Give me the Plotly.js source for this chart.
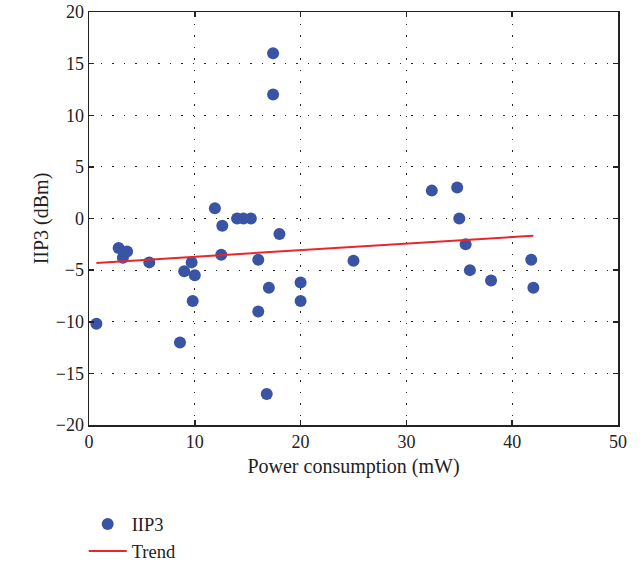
<!DOCTYPE html>
<html><head><meta charset="utf-8">
<script src="https://cdn.plot.ly/plotly-3.0.1.min.js"></script>
<style>body{margin:0;background:#fff}#chart{width:642px;height:563px}</style>
</head><body><div id="chart"></div>
<script>
const powerMW = [0.7, 2.8, 3.2, 3.6, 5.7, 8.6, 9.0, 9.7, 9.8, 10.0, 11.9, 12.6, 12.5, 14.0, 14.6, 15.3, 16.0, 16.0, 16.8, 17.0, 17.4, 17.4, 18.0, 20.0, 20.0, 25.0, 32.4, 34.8, 35.0, 35.6, 36.0, 38.0, 41.8, 42.0];
const iip3dBm = [-10.2, -2.85, -3.8, -3.2, -4.25, -12.0, -5.1, -4.25, -8.0, -5.5, 1.0, -0.7, -3.5, 0.0, 0.0, 0.0, -4.0, -9.0, -17.0, -6.7, 16.0, 12.0, -1.5, -6.2, -8.0, -4.1, 2.7, 3.0, 0.0, -2.5, -5.0, -6.0, -4.0, -6.7];
const trendX = [0.7, 42.0];
const trendY = [-4.3, -1.67];
const xTicks = [0, 10, 20, 30, 40, 50];
const yTicks = [-20, -15, -10, -5, 0, 5, 10, 15, 20];

const fam = '"Liberation Serif", "DejaVu Serif", serif';
const font = {family: fam, color: '#222', size: 18};
const data = [
  {x: powerMW, y: iip3dBm, type: 'scatter', mode: 'markers', name: 'IIP3',
   marker: {color: '#3a54a5', size: 12}},
  {x: trendX, y: trendY, type: 'scatter', mode: 'lines', name: 'Trend',
   line: {color: '#e8262b', width: 2}}
];
const axisCommon = {
  showline: true, mirror: 'ticks', linecolor: '#222', linewidth: 1.5,
  ticks: 'inside', ticklen: 5, tickcolor: '#222', tickwidth: 1.5,
  showgrid: true, gridcolor: '#222', griddash: '1.5px,10px', gridwidth: 1.2,
  zeroline: false, tickfont: font
};
const layout = {
  width: 642, height: 563,
  margin: {l: 89, r: 24, t: 12, b: 138, autoexpand: false},
  paper_bgcolor: '#fff', plot_bgcolor: '#fff',
  font: font,
  showlegend: true,
  legend: {x: -0.01, y: -0.195, xanchor: 'left', yanchor: 'top', itemwidth: 38,
           font: {family: fam, size: 18.5, color: '#222'},
           bgcolor: 'rgba(0,0,0,0)', tracegroupgap: 0},
  xaxis: Object.assign({}, axisCommon, {range: [0, 50], tickvals: xTicks,
    title: {text: 'Power consumption (mW)', font: {family: fam, size: 20, color: '#222'}, standoff: 8}}),
  yaxis: Object.assign({}, axisCommon, {range: [-20, 20], tickvals: yTicks,
    title: {text: 'IIP3 (dBm)', font: {family: fam, size: 20, color: '#222'}, standoff: 1}})
};
Plotly.newPlot('chart', data, layout, {displayModeBar: false, staticPlot: true});
</script></body></html>
